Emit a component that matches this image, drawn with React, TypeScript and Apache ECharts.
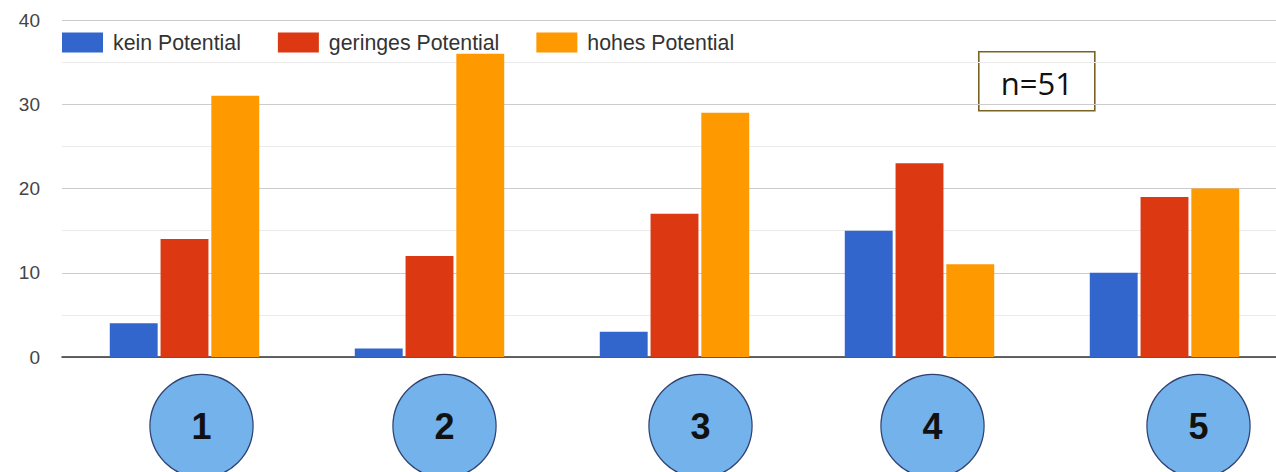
import React, { useEffect, useRef } from "react";
import * as echarts from "echarts";

const categories = ["1", "2", "3", "4", "5"];
const seriesNames = ["kein Potential", "geringes Potential", "hohes Potential"];
const keinValues = [4, 1, 3, 15, 10];
const geringValues = [14, 12, 17, 23, 19];
const hohesValues = [31, 36, 29, 11, 20];
const yTicks = [0, 10, 20, 30, 40];
const sampleNote = "n=51";

const colors = ["#3366cc", "#dc3912", "#ff9900"];
// horizontal offsets of the circled labels relative to the category centre
const labelOffsets = [17, 15, 26, 13, 34];

export default function App() {
  const ref = useRef<HTMLDivElement>(null);

  useEffect(() => {
    if (!ref.current) return;
    const chart = echarts.init(ref.current, undefined, { renderer: "svg" });

    const rich: Record<string, any> = {
      c: {
        width: 102,
        height: 102,
        lineHeight: 102,
        borderRadius: 51,
        backgroundColor: "#74b2ec",
        borderColor: "#2f4170",
        borderWidth: 1.2,
        align: "center",
        fontSize: 36,
        fontWeight: "bold",
        color: "#111111",
        fontFamily: "Liberation Sans",
      },
    };
    labelOffsets.forEach((d, i) => {
      rich["s" + i] = { width: 2 * d, height: 10, fontSize: 1 };
    });

    const dataSeries = [keinValues, geringValues, hohesValues];

    chart.setOption({
      animation: false,
      textStyle: { fontFamily: "Liberation Sans" },
      grid: { left: 62, top: 20, width: 1225, height: 337, outerBoundsMode: "none", containLabel: false },
      legend: {
        left: 62,
        top: 32,
        padding: 0,
        itemWidth: 41,
        itemHeight: 20,
        itemGap: 37,
        icon: "rect",
        data: seriesNames,
        textStyle: { fontSize: 21.3, color: "#333333", padding: [0, 0, 0, 5] },
      },
      xAxis: {
        type: "category",
        data: categories,
        axisLine: { show: true, lineStyle: { color: "#333333", width: 1.5 } },
        axisTick: { show: false },
        axisLabel: {
          margin: 18,
          interval: 0,
          formatter: (v: string, i: number) => `{s${i}| }{c|${v}}`,
          rich,
        },
      },
      yAxis: {
        type: "value",
        min: 0,
        max: 40,
        interval: 10,
        axisLine: { show: false },
        axisTick: { show: false },
        axisLabel: {
          fontSize: 19,
          color: "#444444",
          margin: 22,
          formatter: (v: number) => (yTicks.includes(v) ? String(v) : ""),
        },
        splitLine: { show: true, lineStyle: { color: "#cccccc", width: 1 } },
        minorTick: { show: false, splitNumber: 2 },
        minorSplitLine: { show: true, lineStyle: { color: "#ebebeb", width: 1 } },
      },
      series: dataSeries.map((vals, i) => ({
        name: seriesNames[i],
        type: "bar",
        data: vals,
        barGap: "6%",
        barCategoryGap: "39%",
        itemStyle: { color: colors[i] },
      })),
      graphic: [
        {
          type: "group",
          left: 978,
          top: 51,
          children: [
            {
              type: "rect",
              shape: { x: 0, y: 0, width: 116, height: 59 },
              style: { fill: "#ffffff", stroke: "#7a6322", lineWidth: 1.6 },
            },
            {
              type: "text",
              x: 58,
              y: 31,
              style: {
                text: sampleNote,
                fontSize: 31,
                fontFamily: "Open Sans",
                fill: "#111111",
                align: "center",
                verticalAlign: "middle",
              },
            },
          ],
        },
      ],
    });

    return () => chart.dispose();
  }, []);

  return (
    <div
      ref={ref}
      style={{ position: "fixed", left: 0, top: 0, width: 1276, height: 472, background: "#ffffff" }}
    />
  );
}
